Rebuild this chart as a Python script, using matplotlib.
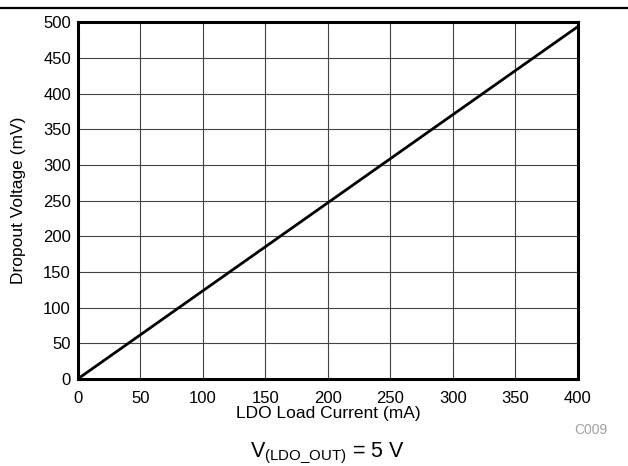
import matplotlib
matplotlib.use("Agg")
import matplotlib.pyplot as plt
from matplotlib.lines import Line2D

plt.rcParams['font.family'] = ['Liberation Sans', 'DejaVu Sans']

# data
load_current_ma = [0, 400]
dropout_mv = [0, 494]
x_ticks = [0, 50, 100, 150, 200, 250, 300, 350, 400]
y_ticks = [0, 50, 100, 150, 200, 250, 300, 350, 400, 450, 500]

fig = plt.figure(figsize=(6.28, 4.66), dpi=100)
ax = fig.add_axes([0.124, 0.187, 0.796, 0.765])

ax.plot(load_current_ma, dropout_mv, color="black", lw=2, solid_capstyle="butt", zorder=3)

ax.set_xlim(0, 400)
ax.set_ylim(0, 500)
ax.set_xticks(x_ticks)
ax.set_yticks(y_ticks)
ax.grid(True, color="#444444", lw=0.8)
ax.tick_params(length=0, labelsize=12)
ax.tick_params(axis="x", pad=9)
ax.tick_params(axis="y", pad=5)
for s in ax.spines.values():
    s.set_linewidth(2.2)

ax.set_xlabel("LDO Load Current (mA)", fontsize=12.5, labelpad=0)
ax.set_ylabel("Dropout Voltage (mV)", fontsize=12.5, labelpad=12)

# rule across the top
fig.add_artist(Line2D([0, 1], [0.983, 0.983], transform=fig.transFigure, color="black", lw=1.6))

fig.text(0.940, 0.077, "C009", color="#a0a0a0", fontsize=10, ha="center", va="center")
fig.text(0.522, 0.018, r"V$_{\mathregular{(LDO\_OUT)}}$ = 5 V", fontsize=15.5, ha="center", va="baseline")

fig.savefig("out.png", dpi=100)
